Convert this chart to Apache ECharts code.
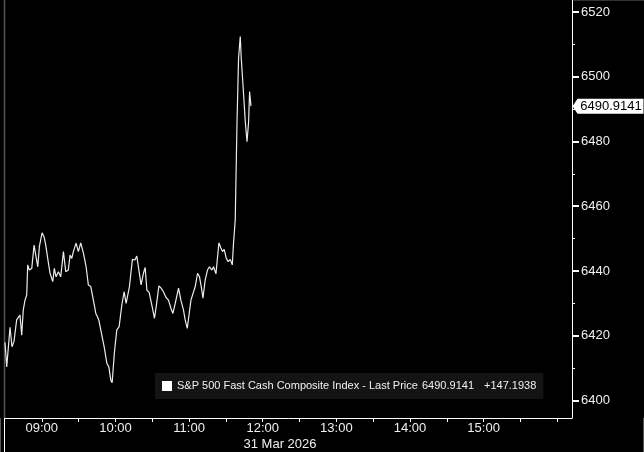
<!DOCTYPE html>
<html>
<head>
<meta charset="utf-8">
<script src="https://cdn.jsdelivr.net/npm/echarts@6/dist/echarts.min.js"></script>
<style>
html,body{margin:0;padding:0;background:#000;}
#chart{width:644px;height:452px;}
</style>
</head>
<body>
<div id="chart"></div>
<script>
// ---- data ----
const seriesName = 'S&P 500 Fast Cash Composite Index - Last Price';
const netChange = 147.1938;
const dateLabel = '31 Mar 2026';
const sessionStart = 510; // 08:30 in minutes of day
const axisMinMinute = 510;
const axisMaxMinute = 972;
// minutes after 08:30
const minutes = [0, 1.4, 4.1, 5.7, 7.3, 8.2, 9.5, 10.8, 12.2, 13.6,
  14.9, 16.3, 17.7, 18.5, 19.8, 21.8, 23.7, 25.3, 26.7, 28.0,
  30.2, 31.8, 33.2, 34.8, 36.7, 38.9, 40.2, 41.6, 43.5, 45.4,
  47.6, 49.5, 51.6, 53.0, 54.4, 55.7, 57.9, 59.8, 61.7, 63.9,
  66.1, 67.9, 69.9, 72.0, 74.0, 75.3, 76.4, 78.9, 80.8, 83.0,
  84.6, 86.2, 87.3, 89.2, 91.1, 93.0, 95.2, 97.1, 98.7, 101.4,
  103.8, 105.8, 107.4, 108.7, 110.9, 112.8, 114.2, 115.6, 117.5, 119.9,
  121.8, 123.2, 125.4, 127.2, 129.1, 131.1, 133.2, 135.2, 136.8, 138.7,
  141.4, 143.3, 145.4, 146.8, 148.5, 150.1, 151.5, 153.1, 155.0, 156.9,
  158.5, 160.1, 161.3, 163.1, 165.0, 166.6, 168.6, 169.9, 171.9, 173.2,
  174.3, 176.0, 177.2, 178.6, 180.3, 181.9, 183.5, 185.2, 186.2, 187.6,
  189.0, 190.3, 191.7, 192.5, 193.9, 194.7, 195.8, 197.2, 198.5, 199.3,
  199.8, 200.4];
const prices = [6417.9, 6410.4, 6422.6, 6416.6, 6418.2, 6417.7, 6424.9, 6424.9, 6426.4, 6420.2,
  6428.0, 6431.0, 6432.6, 6441.9, 6440.3, 6440.8, 6448.0, 6447.5, 6441.3, 6447.5,
  6451.8, 6450.6, 6448.0, 6443.9, 6439.3, 6436.7, 6440.8, 6438.2, 6439.8, 6438.2,
  6446.0, 6439.8, 6440.3, 6444.9, 6443.9, 6446.0, 6448.6, 6446.0, 6448.7, 6445.5,
  6441.3, 6435.7, 6435.2, 6431.0, 6426.9, 6425.9, 6424.9, 6420.2, 6416.6, 6411.5,
  6410.4, 6406.3, 6405.5, 6415.1, 6421.8, 6422.8, 6429.5, 6433.6, 6430.0, 6435.2,
  6443.6, 6443.4, 6444.6, 6441.3, 6435.7, 6439.3, 6441.1, 6434.1, 6433.3, 6429.0,
  6425.4, 6429.0, 6435.4, 6434.7, 6433.6, 6431.9, 6431.0, 6428.5, 6426.9, 6430.0,
  6434.7, 6431.0, 6428.0, 6424.9, 6422.3, 6426.9, 6431.0, 6430.5, 6435.2, 6439.3,
  6438.2, 6434.7, 6431.6, 6437.2, 6440.3, 6441.3, 6440.3, 6441.3, 6439.1, 6444.4,
  6448.7, 6447.0, 6446.0, 6446.7, 6443.9, 6442.9, 6443.6, 6441.9, 6448.6, 6455.8,
  6485.1, 6505.7, 6512.4, 6505.7, 6497.5, 6496.9, 6486.1, 6479.9, 6486.1, 6495.4,
  6495.6, 6490.9141];
const yMin = 6394.6;
const yMax = 6523.7;
const yTickLabels = [6400, 6420, 6440, 6460, 6480, 6500, 6520];
const yMinorTicks = [6410, 6430, 6450, 6470, 6490, 6510];
const xTicks = [540, 570, 600, 630, 660, 690, 720, 750, 780, 810, 840, 870, 900, 930, 960];
const xTickLabels = [540, 600, 660, 720, 780, 840, 900];

// ---- build ----
const lineData = minutes.map((m, i) => [sessionStart + m, prices[i]]);
const last = prices[prices.length - 1];
const FONT = 'Liberation Sans, Arial, sans-serif';
const fmtTime = v => {
  const h = Math.floor(v / 60), m = Math.round(v % 60);
  return String(h).padStart(2, '0') + ':' + String(m).padStart(2, '0');
};

const chart = echarts.init(document.getElementById('chart'), null, {renderer: 'canvas'});
chart.setOption({
  backgroundColor: '#000',
  animation: false,
  grid: {left: 5, right: 72, top: 0, bottom: 34},
  legend: {
    left: 155, top: 373,
    padding: [6, 7, 6, 7],
    backgroundColor: '#141414',
    icon: 'rect', itemWidth: 10, itemHeight: 10,
    itemStyle: {color: '#fff'},
    data: [seriesName],
    formatter: name => '{a|' + name + '}{b|' + last.toFixed(4) + '}{c|+' + netChange.toFixed(4) + '}',
    textStyle: {
      color: '#f0f0f0', fontFamily: FONT, fontSize: 11, lineHeight: 14,
      rich: {
        a: {width: 245, color: '#f0f0f0', fontFamily: FONT, fontSize: 11},
        b: {width: 62, color: '#f0f0f0', fontFamily: FONT, fontSize: 11},
        c: {color: '#f0f0f0', fontFamily: FONT, fontSize: 11}
      }
    }
  },
  xAxis: {
    type: 'value', min: axisMinMinute, max: axisMaxMinute,
    splitLine: {show: false},
    axisLine: {show: true, lineStyle: {color: '#fff', width: 1}},
    axisTick: {show: true, customValues: xTicks, length: 4, lineStyle: {color: '#fff', width: 1}},
    axisLabel: {customValues: xTickLabels, formatter: fmtTime, color: '#f0f0f0', fontFamily: FONT, fontSize: 13, margin: 4}
  },
  yAxis: [{
    type: 'value', position: 'right', min: yMin, max: yMax,
    splitLine: {show: false},
    axisLine: {show: true, lineStyle: {color: '#fff', width: 1}},
    axisTick: {show: true, customValues: yTickLabels, length: 7, lineStyle: {color: '#fff', width: 2}},
    axisLabel: {customValues: yTickLabels, formatter: v => String(v), color: '#f0f0f0', fontFamily: FONT, fontSize: 13, margin: 9}
  }, {
    type: 'value', position: 'right', min: yMin, max: yMax,
    splitLine: {show: false},
    axisLine: {show: false},
    axisTick: {show: true, customValues: yMinorTicks, length: 3, lineStyle: {color: '#fff', width: 1}},
    axisLabel: {show: false}
  }],
  series: [{
    name: seriesName,
    type: 'line',
    data: lineData,
    showSymbol: false,
    symbol: 'none',
    lineStyle: {color: '#ececec', width: 1.2},
    itemStyle: {color: '#fff'},
    markPoint: {
      symbol: 'path://M0,7.5 L5,0 L71,0 L71,15 L5,15 Z',
      symbolSize: [71, 15],
      symbolKeepAspect: false,
      symbolOffset: [36, 0],
      itemStyle: {color: '#fff'},
      label: {show: true, position: 'inside', color: '#000', fontFamily: FONT, fontSize: 13, offset: [3, 0],
        formatter: p => p.value.toFixed(4)},
      data: [{coord: [axisMaxMinute, last], value: last}]
    }
  }],
  graphic: [
    {type: 'line', shape: {x1: 4.5, y1: 0, x2: 4.5, y2: 418}, style: {stroke: '#555', lineWidth: 1.5}, silent: true},
    {type: 'line', shape: {x1: 4.5, y1: 418, x2: 4.5, y2: 452}, style: {stroke: '#fff', lineWidth: 1}, silent: true},
    {type: 'line', shape: {x1: 0.5, y1: 418, x2: 0.5, y2: 452}, style: {stroke: '#555', lineWidth: 1}, silent: true},
    {type: 'line', shape: {x1: 643.5, y1: 418, x2: 643.5, y2: 452}, style: {stroke: '#555', lineWidth: 1}, silent: true},
    {type: 'line', shape: {x1: 572, y1: 0.5, x2: 644, y2: 0.5}, style: {stroke: '#333', lineWidth: 1}, silent: true},
    {type: 'text', x: 280, y: 444.5, style: {text: dateLabel, fill: '#f0f0f0', font: '13px ' + FONT, align: 'center', verticalAlign: 'middle'}, silent: true}
  ]
});
</script>
</body>
</html>
